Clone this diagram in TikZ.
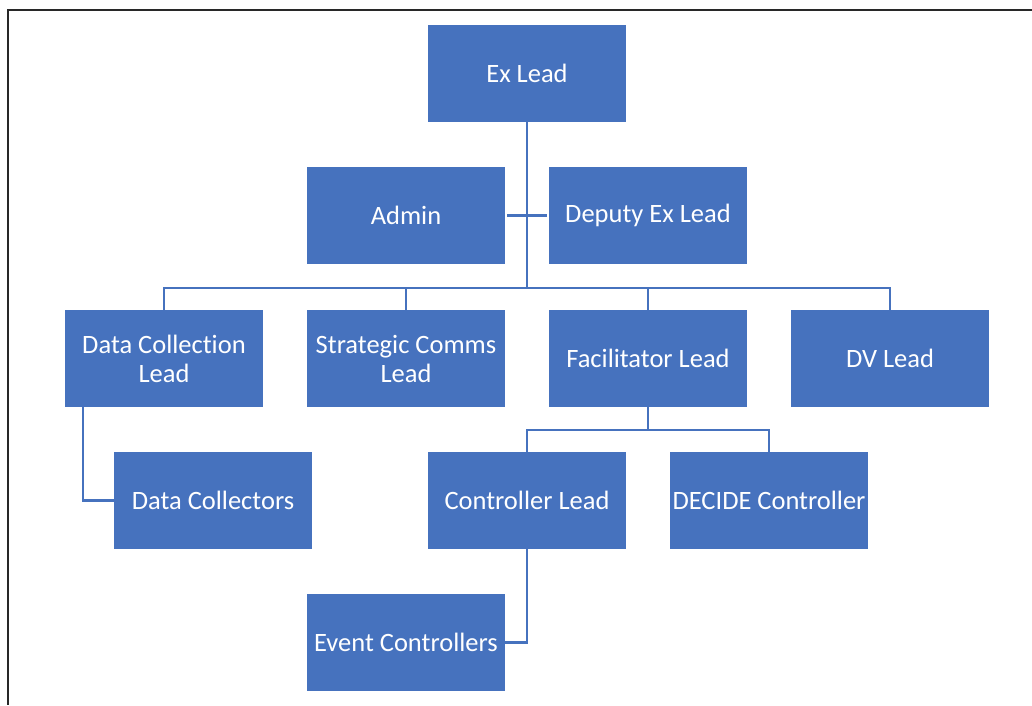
\documentclass[tikz,border=0pt]{standalone}
\usepackage{fontspec}
\setmainfont{Carlito}[Ligatures=NoCommon]
\definecolor{boxblue}{RGB}{70,114,190}
\definecolor{frame}{RGB}{40,40,40}
\tikzset{
  orgbox/.style={fill=boxblue, draw=none, minimum width=198pt, minimum height=97pt, inner sep=0pt,
    text=white, align=center, font=\fontsize{26.5}{29}\selectfont},
  link/.style={draw=boxblue, line width=2.4pt}
}
\begin{document}
\begin{tikzpicture}[x=1pt,y=-1pt]
\useasboundingbox (0,0) rectangle (1032,705);
\draw[frame, line width=2.2pt] (1032,10) -- (8,10) -- (8,705);
\node[orgbox] (ex) at (527,73.5) {Ex Lead};
\node[orgbox] (admin) at (406,215.5) {Admin};
\node[orgbox] (dep) at (648,215.5) {Deputy Ex Lead};
\node[orgbox] (dcl) at (164,358.5) {Data Collection\\Lead};
\node[orgbox] (sc) at (406,358.5) {Strategic Comms\\Lead};
\node[orgbox] (fac) at (648,358.5) {Facilitator Lead};
\node[orgbox] (dv) at (890,358.5) {DV Lead};
\node[orgbox] (dc) at (213,500.5) {Data Collectors};
\node[orgbox] (cl) at (527,500.5) {Controller Lead};
\node[orgbox] (dec) at (769,500.5) {DECIDE Controller};
\node[orgbox] (ev) at (406,642.5) {Event Controllers};
\coordinate (bus) at (527,288);
\coordinate (fbus) at (648,430);
\draw[link] (ex.south) -- (bus);
\draw[link] ([xshift=2pt]admin.east) -- ([xshift=-2pt]dep.west);
\draw[link] (dcl.north) -- (dcl.north |- bus) -- (dv.north |- bus) -- (dv.north);
\draw[link] (sc.north) -- (sc.north |- bus);
\draw[link] (fac.north) -- (fac.north |- bus);
\draw[link] ([xshift=-81pt]dcl.south) |- (dc.west);
\draw[link] (fac.south) -- (fbus);
\draw[link] (cl.north) -- (cl.north |- fbus) -- (dec.north |- fbus) -- (dec.north);
\draw[link] (cl.south) |- (ev.east);
\end{tikzpicture}
\end{document}
